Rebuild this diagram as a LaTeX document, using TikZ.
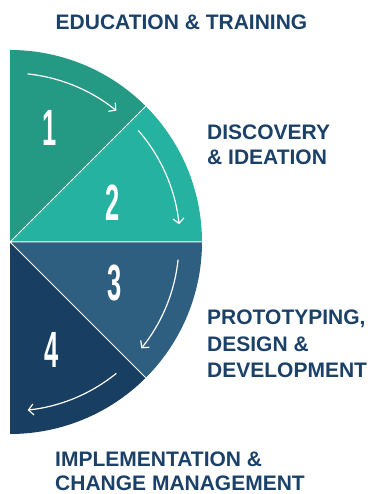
\documentclass[tikz,border=0pt]{standalone}
\usepackage{fontspec}
\setmainfont{Liberation Sans}
\usetikzlibrary{arrows.meta}
\definecolor{sone}{HTML}{249A85}
\definecolor{stwo}{HTML}{26B2A0}
\definecolor{sthree}{HTML}{2E5E80}
\definecolor{sfour}{HTML}{183E61}
\definecolor{labelblue}{HTML}{1B4169}
\tikzset{
  steplabel/.style={text=labelblue,font=\fontsize{21}{25}\selectfont\bfseries,inner sep=0,align=left},
  stepnum/.style={text=white,font=\fontsize{51}{51}\selectfont\bfseries,inner sep=0},
  flow/.style={white,line width=1.2,-{Straight Barb[length=5,width=11]}}
}
\begin{document}
\begin{tikzpicture}[x=1pt,y=1pt]
\useasboundingbox (0,0) rectangle (373,494);
\coordinate (c) at (10,252);
\fill[sone] (c)--++(90:192) arc[start angle=90,end angle=45,radius=192]--cycle;
\fill[stwo] (c)--++(45:192) arc[start angle=45,end angle=0,radius=192]--cycle;
\fill[sthree] (c)--++(0:192) arc[start angle=0,end angle=-45,radius=192]--cycle;
\fill[sfour] (c)--++(-45:192) arc[start angle=-45,end angle=-90,radius=192]--cycle;
\draw[white,line width=1] (c)--++(45:192) (c)--++(0:192) (c)--++(-45:192);
\draw[flow] ([shift={(84:169)}]c) arc[start angle=84,end angle=51,radius=169];
\draw[flow] ([shift={(41:170)}]c) arc[start angle=41,end angle=6,radius=170];
\draw[flow] ([shift={(-6:169)}]c) arc[start angle=-6,end angle=-39,radius=169];
\draw[flow] ([shift={(-51:169)}]c) arc[start angle=-51,end angle=-84,radius=169];
\node[stepnum] (one) at (50,366) {\scalebox{.5}[1]{1}};
\node[stepnum] (two) at (113,291) {\scalebox{.5}[1]{2}};
\node[stepnum] (three) at (115,211) {\scalebox{.5}[1]{3}};
\node[stepnum] (four) at (52,144) {\scalebox{.5}[1]{4}};
\node[steplabel,anchor=base] (edu) at (181.5,464) {EDUCATION \& TRAINING};
\node[steplabel,anchor=base west] (disc) at (207,329) {DISCOVERY\\\& IDEATION};
\node[steplabel,anchor=base west,font=\fontsize{21}{26.5}\selectfont\bfseries] (proto) at (207,116) {PROTOTYPING,\\DESIGN \&\\DEVELOPMENT};
\node[steplabel,anchor=base west] (impl) at (55,3) {IMPLEMENTATION \&\\CHANGE MANAGEMENT};
\end{tikzpicture}
\end{document}
